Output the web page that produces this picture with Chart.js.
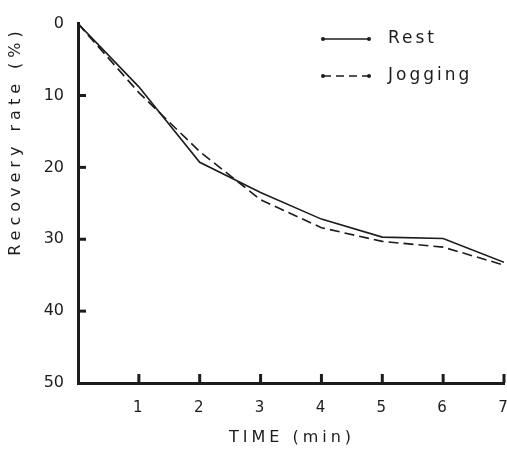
<!DOCTYPE html>
<html>
<head>
<meta charset="utf-8">
<script src="https://cdn.jsdelivr.net/npm/chart.js@4"></script>
<style>
  html, body { margin: 0; padding: 0; background: #fff; }
  #wrap { width: 507px; height: 451px; position: relative; }
</style>
</head>
<body>
<div id="wrap"><canvas id="chart"></canvas></div>
<script>
// values (recovery rate %, by minute)
const times = [0, 1, 2, 3, 4, 5, 6, 7];
const restValues = [0, 8.8, 19.3, 23.5, 27.2, 29.7, 29.9, 33.2];
const joggingValues = [0, 9.6, 17.8, 24.5, 28.4, 30.3, 31.1, 33.6];
const yTicks = [0, 10, 20, 30, 40, 50];
const xTicks = [1, 2, 3, 4, 5, 6, 7];

const INK = "#1c1c1c";
const FONT = "DejaVu Sans";

const toPoints = (vals) => times.map((t, i) => ({ x: t, y: vals[i] }));

// tick marks point inward in the original, plus the hand-placed titles & legend
const decorations = {
  id: "decorations",
  afterDraw(chart) {
    const { ctx, scales: { x, y }, chartArea: ca } = chart;
    ctx.save();
    ctx.strokeStyle = INK;
    ctx.fillStyle = INK;
    ctx.lineWidth = 3;
    ctx.lineCap = "butt";
    ctx.font = `15px ${FONT}`;
    ctx.textAlign = "center";
    ctx.textBaseline = "middle";
    xTicks.forEach(v => {
      const px = x.getPixelForValue(v);
      ctx.beginPath();
      ctx.moveTo(px, ca.bottom);
      ctx.lineTo(px, ca.bottom - 9);
      ctx.stroke();
      // x labels drawn here so the last one may run off the edge like the original
      ctx.fillText(String(v), px - 1, ca.bottom + 25);
    });
    yTicks.filter(v => v > 0 && v < 50).forEach(v => {
      const py = y.getPixelForValue(v);
      ctx.beginPath();
      ctx.moveTo(ca.left, py);
      ctx.lineTo(ca.left + 8, py);
      ctx.stroke();
    });

    // axis titles
    ctx.font = `16px ${FONT}`;
    ctx.letterSpacing = "4px";
    ctx.fillText("TIME (min)", 292, 438);
    ctx.save();
    ctx.translate(16, 141);
    ctx.rotate(-Math.PI / 2);
    ctx.letterSpacing = "5px";
    ctx.fillText("Recovery rate (%)", 0, 0);
    ctx.restore();

    // legend
    const items = [
      { label: "Rest", y: 39, dash: [] },
      { label: "Jogging", y: 76, dash: [8, 5] }
    ];
    ctx.font = `17px ${FONT}`;
    items.forEach(it => {
      ctx.lineWidth = 1.5;
      ctx.setLineDash(it.dash);
      ctx.beginPath();
      ctx.moveTo(323, it.y);
      ctx.lineTo(369, it.y);
      ctx.stroke();
      ctx.setLineDash([]);
      [323, 369].forEach(cx => {
        ctx.beginPath();
        ctx.arc(cx, it.y, 2, 0, Math.PI * 2);
        ctx.fill();
      });
      ctx.textAlign = "left";
      ctx.letterSpacing = "3px";
      ctx.fillText(it.label, 388, it.y);
    });
    ctx.restore();
  }
};

new Chart(document.getElementById("chart"), {
  type: "line",
  data: {
    datasets: [
      { label: "Rest", data: toPoints(restValues), borderColor: INK, borderWidth: 1.6, pointRadius: 0, fill: false, tension: 0 },
      { label: "Jogging", data: toPoints(joggingValues), borderColor: INK, borderWidth: 1.6, borderDash: [10, 5], pointRadius: 0, fill: false, tension: 0 }
    ]
  },
  options: {
    responsive: true,
    maintainAspectRatio: false,
    animation: false,
    layout: { padding: { top: 17, right: 3, left: 0, bottom: 0 } },
    plugins: { legend: { display: false }, tooltip: { enabled: false } },
    scales: {
      x: {
        type: "linear",
        min: 0,
        max: 7,
        grid: { display: false, drawTicks: false },
        border: { display: true, width: 3, color: INK },
        ticks: { display: false, stepSize: 1 },
        afterFit: (s) => { s.height = 68; }
      },
      y: {
        reverse: true,
        min: 0,
        max: 50,
        grid: { display: false, drawTicks: false },
        border: { display: true, width: 3, color: INK },
        ticks: {
          stepSize: 10,
          padding: 14,
          color: INK,
          font: { family: FONT, size: 16 }
        },
        afterFit: (s) => { s.width = 78; }
      }
    }
  },
  plugins: [decorations]
});
</script>
</body>
</html>
